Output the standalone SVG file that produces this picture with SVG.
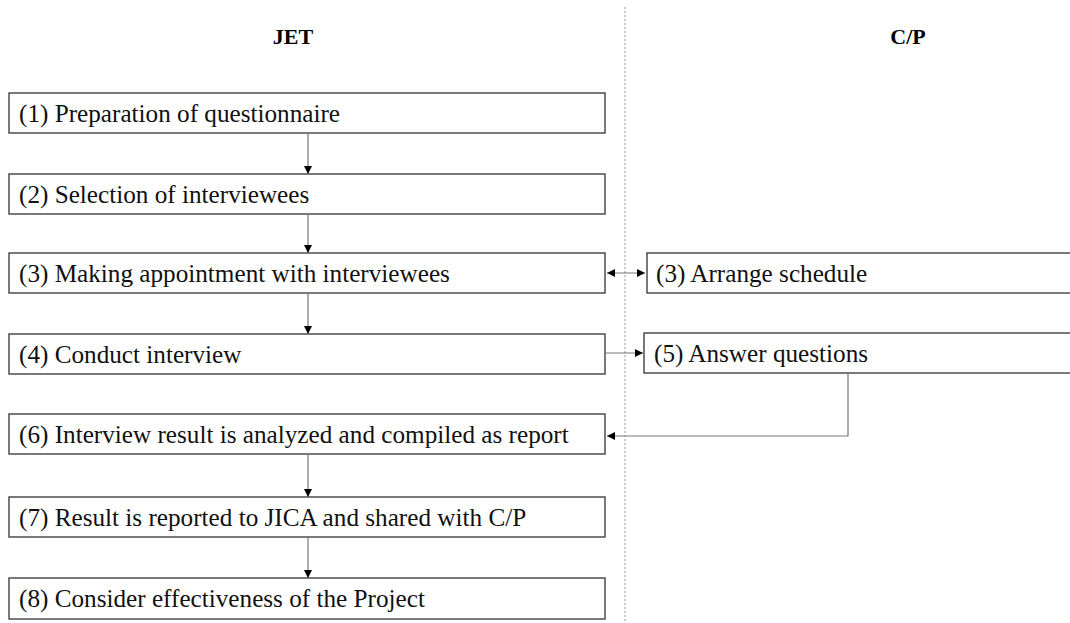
<svg xmlns="http://www.w3.org/2000/svg" width="1070" height="623" viewBox="0 0 1070 623">
  <defs>
    <style>
      .box { fill: #ffffff; stroke: #404040; stroke-width: 1.4; }
      .lbl { font-family: "Liberation Serif", "Times New Roman", serif; font-size: 25.2px; fill: #111; }
      .head { font-family: "Liberation Serif", "Times New Roman", serif; font-size: 22px; font-weight: bold; fill: #000; }
      .conn { fill: none; stroke: #777; stroke-width: 1.2; }
      .divider { stroke: #aaa; stroke-width: 1.2; stroke-dasharray: 2 2; }
    </style>
    <marker id="arrow" viewBox="0 0 10 10" refX="10" refY="5" markerWidth="8" markerHeight="8" markerUnits="userSpaceOnUse" orient="auto-start-reverse">
      <path d="M0,0 L10,5 L0,10 z" fill="#000"/>
    </marker>
  </defs>

  <rect width="1070" height="623" fill="#ffffff"/>

  <!-- column divider -->
  <line class="divider" x1="625" y1="7" x2="625" y2="623"/>

  <!-- column headings -->
  <text class="head" x="293" y="44" text-anchor="middle">JET</text>
  <text class="head" x="908" y="44" text-anchor="middle">C/P</text>

  <!-- JET steps -->
  <g id="step1">
    <rect class="box" x="9" y="93" width="596" height="40"/>
    <text class="lbl" x="19" y="122">(1) Preparation of questionnaire</text>
  </g>
  <g id="step2">
    <rect class="box" x="9" y="174" width="596" height="40"/>
    <text class="lbl" x="19" y="203">(2) Selection of interviewees</text>
  </g>
  <g id="step3">
    <rect class="box" x="9" y="253" width="596" height="40"/>
    <text class="lbl" x="19" y="282">(3) Making appointment with interviewees</text>
  </g>
  <g id="step4">
    <rect class="box" x="9" y="334" width="596" height="40"/>
    <text class="lbl" x="19" y="363">(4) Conduct interview</text>
  </g>
  <g id="step6">
    <rect class="box" x="9" y="414" width="596" height="40"/>
    <text class="lbl" x="19" y="443">(6) Interview result is analyzed and compiled as report</text>
  </g>
  <g id="step7">
    <rect class="box" x="9" y="497" width="596" height="40"/>
    <text class="lbl" x="19" y="526">(7) Result is reported to JICA and shared with C/P</text>
  </g>
  <g id="step8">
    <rect class="box" x="9" y="578" width="596" height="41"/>
    <text class="lbl" x="19" y="607">(8) Consider effectiveness of the Project</text>
  </g>

  <!-- C/P steps -->
  <g id="cp3">
    <rect class="box" x="647" y="253" width="430" height="40"/>
    <text class="lbl" x="656" y="282">(3) Arrange schedule</text>
  </g>
  <g id="cp5">
    <rect class="box" x="644" y="333" width="433" height="40"/>
    <text class="lbl" x="654" y="362">(5) Answer questions</text>
  </g>

  <!-- connectors -->
  <g id="connectors">
    <line class="conn" x1="308" y1="133" x2="308" y2="174" marker-end="url(#arrow)"/>
    <line class="conn" x1="308" y1="214" x2="308" y2="253" marker-end="url(#arrow)"/>
    <line class="conn" x1="308" y1="293" x2="308" y2="334" marker-end="url(#arrow)"/>
    <line class="conn" x1="308" y1="454" x2="308" y2="497" marker-end="url(#arrow)"/>
    <line class="conn" x1="308" y1="537" x2="308" y2="578" marker-end="url(#arrow)"/>
    <line class="conn" x1="607" y1="273" x2="645" y2="273" marker-start="url(#arrow)" marker-end="url(#arrow)"/>
    <line class="conn" x1="605" y1="353" x2="643" y2="353" marker-end="url(#arrow)"/>
    <polyline class="conn" points="848,373 848,436 607,436" marker-end="url(#arrow)"/>
  </g>
</svg>
